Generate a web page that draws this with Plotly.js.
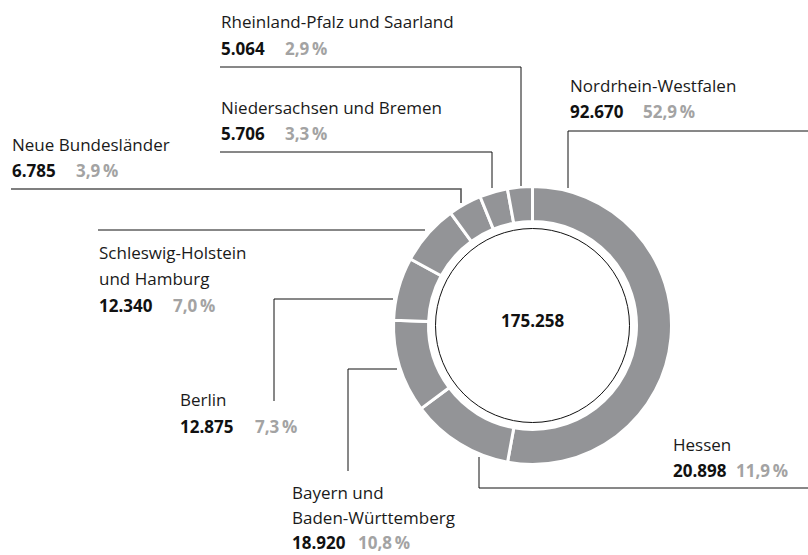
<!DOCTYPE html>
<html>
<head>
<meta charset="utf-8">
<script src="https://cdn.plot.ly/plotly-3.0.1.min.js"></script>
<style>html,body{margin:0;padding:0;background:#fff;}#chart{width:808px;height:555px;}</style>
</head>
<body>
<div id="chart"></div>
<script>
// ---- data ----
const regions = ['Nordrhein-Westfalen', 'Hessen', 'Bayern und<br>Baden-Württemberg', 'Berlin',
  'Schleswig-Holstein<br>und Hamburg', 'Neue Bundesländer', 'Niedersachsen und Bremen', 'Rheinland-Pfalz und Saarland'];
const counts = [92670, 20898, 18920, 12875, 12340, 6785, 5706, 5064];
const countLabels = ['92.670', '20.898', '18.920', '12.875', '12.340', '6.785', '5.706', '5.064'];
const shareLabels = ['52,9\u2009%', '11,9\u2009%', '10,8\u2009%', '7,3\u2009%', '7,0\u2009%', '3,9\u2009%', '3,3\u2009%', '2,9\u2009%'];
const totalLabel = '175.258';

// ---- label layout (pixel positions) ----
const W = 808, H = 555;
const labelX   = [569, 672, 291, 179, 98, 11, 220, 220];
const nameY    = [85, 444, 492, 399, 252, 144, 107, 21];
const valueY   = [112, 470, 542.5, 426, 305, 170, 133, 48];
const lineGap  = [26, 26, 25.5, 26, 26, 26, 26, 26];
const shareX   = [642, 735, 357, 254, 172, 75, 284, 284];
const leaders  = [
  [[568,188],[568,131],[808,131]],
  [[479,457],[479,488],[808,488]],
  [[397,369],[348,369],[348,471]],
  [[393,299],[274,299],[274,401]],
  [[98,230],[425,230]],
  [[11,189],[461,189],[461,203]],
  [[220,152],[492,152],[492,188]],
  [[220,67],[521,67],[521,186]]
];
const cx = 532.5, cy = 325.5, rOuter = 139, rInner = 104, rCircle = 97;

const px = x => x / W;
const py = y => 1 - y / H;
const FONT = 'Open Sans, Noto Sans, sans-serif';
const FS = 17;

const annotations = [];
const shapes = [];
regions.forEach((name, i) => {
  const lines = name.split('<br>');
  lines.forEach((ln, k) => {
    annotations.push({xref:'paper', yref:'paper', x:px(labelX[i]), y:py(nameY[i] + k*lineGap[i]),
      xanchor:'left', yanchor:'middle', showarrow:false, text:ln, borderpad:0,
      font:{family:FONT, size:FS, color:'#1a1a1a'}});
  });
  annotations.push({xref:'paper', yref:'paper', x:px(labelX[i]), y:py(valueY[i]),
    xanchor:'left', yanchor:'middle', showarrow:false, text:'<b>' + countLabels[i] + '</b>', borderpad:0,
    font:{family:FONT, size:FS, color:'#111111'}});
  annotations.push({xref:'paper', yref:'paper', x:px(shareX[i]), y:py(valueY[i]),
    xanchor:'left', yanchor:'middle', showarrow:false, text:'<b>' + shareLabels[i] + '</b>', borderpad:0,
    font:{family:FONT, size:FS, color:'#a3a3a3'}});
  const pts = leaders[i];
  const path = pts.map((p, j) => (j ? 'L' : 'M') + px(p[0]) + ',' + py(p[1])).join(' ');
  shapes.push({type:'path', xref:'paper', yref:'paper', path:path,
    line:{color: i === 5 ? '#555555' : '#111111', width: i === 5 ? 1.6 : 1}});
});
annotations.push({xref:'paper', yref:'paper', x:px(cx), y:py(320), xanchor:'center', yanchor:'middle',
  showarrow:false, text:'<b>' + totalLabel + '</b>', font:{family:FONT, size:17, color:'#111111'}});
shapes.push({type:'circle', xref:'paper', yref:'paper',
  x0:px(cx - rCircle), x1:px(cx + rCircle), y0:py(cy + rCircle), y1:py(cy - rCircle),
  line:{color:'#111111', width:1}});

const trace = {
  type:'pie', labels:regions, values:counts, sort:false, direction:'clockwise', rotation:0,
  hole: rInner / rOuter, textinfo:'none', hoverinfo:'none',
  marker:{colors: counts.map(() => '#939497'), line:{color:'#ffffff', width:3}},
  domain:{x:[px(cx - rOuter), px(cx + rOuter)], y:[py(cy + rOuter), py(cy - rOuter)]},
  showlegend:false
};
const layout = {
  width:W, height:H, margin:{l:0, r:0, t:0, b:0}, paper_bgcolor:'#ffffff', plot_bgcolor:'#ffffff',
  showlegend:false, annotations:annotations, shapes:shapes
};
Plotly.newPlot('chart', [trace], layout, {displayModeBar:false, staticPlot:true});
</script>
</body>
</html>
